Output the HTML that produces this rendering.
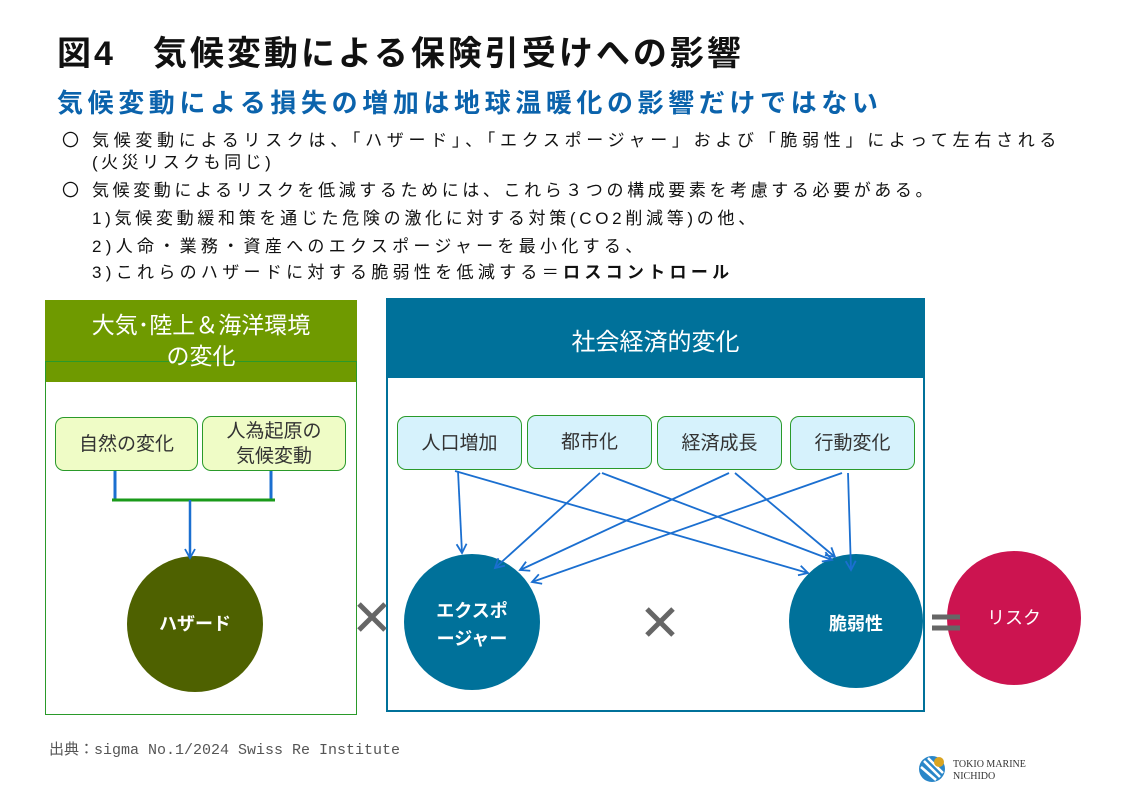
<!DOCTYPE html>
<html><head><meta charset="utf-8"><style>
body{margin:0;width:1123px;height:794px;background:#fff;position:relative;overflow:hidden;font-family:"Liberation Sans","Noto Sans CJK JP",sans-serif;}
.a{position:absolute;white-space:nowrap;}
.t{font-size:17px;color:#111;letter-spacing:3.5px;}
.bx{position:absolute;border:1px solid #2a9a2a;border-radius:9px;display:flex;align-items:center;justify-content:center;text-align:center;font-size:19px;color:#333;line-height:25px;box-sizing:border-box;}
.g{background:#effcc6;}
.b{background:#d6f2fc;}
</style></head><body>
<div class="a" style="left:57px;top:26px;font-size:34px;font-weight:bold;color:#111;letter-spacing:3px;">図4　気候変動による保険引受けへの影響</div>
<div class="a" style="left:57px;top:83px;font-size:26px;font-weight:bold;color:#0b63ac;letter-spacing:4.6px;">気候変動による損失の増加は地球温暖化の影響だけではない</div>
<div class="a t" style="left:62px;top:126px;">〇</div>
<div class="a t" style="left:92px;top:126px;letter-spacing:4.7px;">気候変動によるリスクは、「ハザード」、「エクスポージャー」および「脆弱性」によって左右される</div>
<div class="a t" style="left:92px;top:148px;">(火災リスクも同じ)</div>
<div class="a t" style="left:62px;top:176px;">〇</div>
<div class="a t" style="left:92px;top:176px;letter-spacing:3.6px;">気候変動によるリスクを低減するためには、これら３つの構成要素を考慮する必要がある。</div>
<div class="a t" style="left:92px;top:204px;letter-spacing:3.7px;">1)気候変動緩和策を通じた危険の激化に対する対策(CO2削減等)の他、</div>
<div class="a t" style="left:92px;top:232px;letter-spacing:4.3px;">2)人命・業務・資産へのエクスポージャーを最小化する、</div>
<div class="a t" style="left:92px;top:258px;letter-spacing:4.3px;">3)これらのハザードに対する脆弱性を低減する＝<b>ロスコントロール</b></div>

<div class="a" style="left:45px;top:300px;width:312px;height:82px;background:#6f9a00;"></div>
<div class="a" style="left:45px;top:361px;width:310px;height:352px;border:1px solid #2a9a2a;"></div>
<div class="a" style="left:45px;top:310px;width:312px;text-align:center;color:#fff;font-size:23px;line-height:31px;white-space:normal;">大気･陸上＆海洋環境<br>の変化</div>

<div class="a" style="left:386px;top:298px;width:539px;height:80px;background:#00719a;"></div>
<div class="a" style="left:386px;top:298px;width:535px;height:412px;border:2px solid #00719a;border-top:0;"></div>
<div class="a" style="left:386px;top:322px;width:539px;text-align:center;color:#fff;font-size:24px;">社会経済的変化</div>

<div class="bx g" style="left:55px;top:417px;width:143px;height:54px;">自然の変化</div>
<div class="bx g" style="left:202px;top:416px;width:144px;height:55px;">人為起原の<br>気候変動</div>
<div class="bx b" style="left:397px;top:416px;width:125px;height:54px;">人口増加</div>
<div class="bx b" style="left:527px;top:415px;width:125px;height:54px;">都市化</div>
<div class="bx b" style="left:657px;top:416px;width:125px;height:54px;">経済成長</div>
<div class="bx b" style="left:790px;top:416px;width:125px;height:54px;">行動変化</div>

<svg class="a" style="left:0;top:0" width="1123" height="794">
<defs><marker id="m" markerWidth="12" markerHeight="12" refX="10" refY="6" orient="auto" markerUnits="userSpaceOnUse"><path d="M1,1 L10,6 L1,11" fill="none" stroke="#1b6fd0" stroke-width="1.8"/></marker></defs>
<circle cx="195" cy="624" r="68" fill="#4e6100"/>
<circle cx="472" cy="622" r="68" fill="#00719a"/>
<circle cx="856" cy="621" r="67" fill="#00719a"/>
<circle cx="1014" cy="618" r="67" fill="#cc1450"/>
<g stroke="#1b6fd0" stroke-width="3" fill="none">
<line x1="115" y1="471" x2="115" y2="500"/><line x1="271" y1="471" x2="271" y2="500"/>
</g>
<line x1="112" y1="500" x2="275" y2="500" stroke="#1a9a1a" stroke-width="3"/>
<line x1="190" y1="500" x2="190" y2="558" stroke="#1b6fd0" stroke-width="2.5" marker-end="url(#m)"/>
<g stroke="#1b6fd0" stroke-width="1.8" marker-end="url(#m)">
<line x1="458" y1="471" x2="462" y2="553"/>
<line x1="455" y1="471" x2="808" y2="573"/>
<line x1="600" y1="473" x2="495" y2="568"/>
<line x1="602" y1="473" x2="832" y2="560"/>
<line x1="729" y1="473" x2="520" y2="570"/>
<line x1="735" y1="473" x2="835" y2="557"/>
<line x1="842" y1="473" x2="532" y2="582"/>
<line x1="848" y1="473" x2="851" y2="570"/>
</g>
<g stroke="#666" stroke-width="5"><line x1="359" y1="604" x2="385" y2="630"/><line x1="385" y1="604" x2="359" y2="630"/>
<line x1="647" y1="609" x2="673" y2="635"/><line x1="673" y1="609" x2="647" y2="635"/>
<line x1="932" y1="617" x2="960" y2="617"/><line x1="932" y1="628" x2="960" y2="628"/></g>
<g fill="#fff" font-weight="bold" font-size="18" text-anchor="middle" font-family="Liberation Sans,Noto Sans CJK JP,sans-serif">
<text x="195" y="630">ハザード</text>
<text x="472" y="617">エクスポ</text><text x="472" y="645">ージャー</text>
<text x="856" y="630">脆弱性</text>
<text x="1014" y="624" font-weight="normal">リスク</text>
</g>
<g transform="translate(932,769)"><circle r="13" fill="#2a86c8"/><path d="M-8,-8 L8,8 M-11,-2 L4,11 M-4,-11 L11,4" stroke="#fff" stroke-width="2.5"/><circle cx="7" cy="-7" r="5" fill="#d9a421"/></g>
<text x="953" y="767" font-size="10" fill="#333" font-family="Liberation Serif,serif">TOKIO MARINE</text>
<text x="953" y="779" font-size="10" fill="#333" font-family="Liberation Serif,serif">NICHIDO</text>
</svg>
<div class="a" style="left:49px;top:738px;font-size:15px;color:#555;font-family:'Liberation Mono','Noto Sans CJK JP',monospace;">出典：sigma No.1/2024 Swiss Re Institute</div>
</body></html>
